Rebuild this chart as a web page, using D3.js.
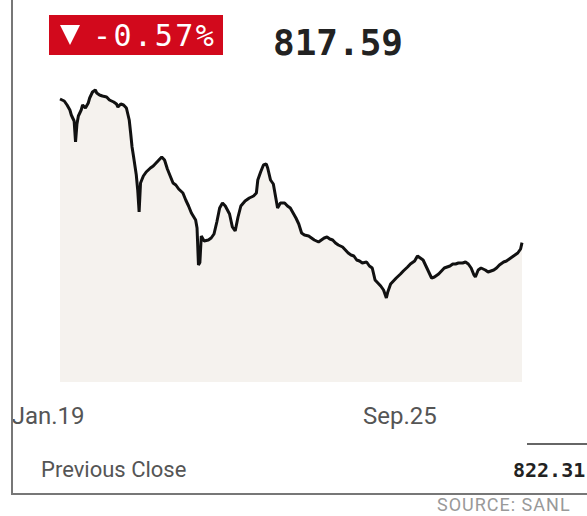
<!DOCTYPE html>
<html>
<head>
<meta charset="utf-8">
<script src="https://cdn.jsdelivr.net/npm/d3@7"></script>
<style>
  body { margin: 0; background: #fff; overflow: hidden; }
  svg { display: block; }
</style>
</head>
<body>
<script>
const startDate = new Date(2023, 0, 26);
const endDate = new Date(2023, 11, 19);

// days after startDate
const dayOffsets = [0, 3, 5, 7, 8, 10, 11, 12, 13, 15, 16, 18, 20, 21, 23, 25, 26, 28, 30, 33,
  35, 38, 40, 41, 43, 45, 47, 49, 50, 51, 52, 54, 55, 56, 57, 59, 61, 64, 66, 68,
  70, 72, 74, 76, 78, 80, 82, 84, 87, 89, 91, 93, 96, 97, 98, 99, 100, 102, 105, 107,
  109, 111, 113, 115, 117, 120, 122, 124, 126, 128, 131, 134, 137, 139, 140, 142, 144, 146, 147, 149,
  151, 153, 154, 156, 159, 161, 163, 165, 167, 169, 171, 173, 176, 178, 180, 183, 185, 187, 189, 191,
  193, 195, 197, 200, 202, 204, 206, 208, 210, 212, 214, 217, 219, 221, 223, 225, 227, 229, 231, 232,
  234, 236, 238, 241, 243, 246, 248, 251, 253, 255, 257, 259, 261, 263, 265, 268, 270, 272, 274, 276,
  278, 280, 282, 285, 287, 289, 291, 293, 294, 296, 298, 301, 303, 305, 307, 309, 311, 314, 316, 318,
  320, 322, 324, 325, 326, 327];

const closes = [918.1, 916.7, 913.9, 910.4, 906.9, 902.7, 888.0, 900.6, 906.2, 910.4, 913.9, 911.8, 915.3, 918.8, 923.0, 924.4, 922.3, 920.9, 920.2, 919.5,
  917.4, 916.0, 914.6, 912.5, 914.6, 913.9, 911.8, 903.4, 894.3, 884.5, 878.2, 864.9, 854.4, 839.0, 859.3, 864.2, 867.0, 869.8, 871.2, 873.3,
  875.4, 877.5, 875.4, 869.1, 864.2, 859.3, 857.9, 855.1, 852.3, 847.4, 843.2, 838.3, 833.4, 827.8, 801.9, 803.6, 822.2, 818.7, 819.4, 820.8,
  823.6, 832.0, 841.8, 845.3, 843.2, 837.6, 828.5, 825.7, 835.5, 843.2, 846.7, 848.8, 850.2, 852.3, 861.4, 867.0, 871.9, 872.6, 869.8, 861.4,
  858.6, 847.4, 841.8, 845.3, 845.3, 843.2, 841.8, 838.3, 834.8, 830.6, 824.3, 822.9, 822.2, 820.8, 819.4, 818.0, 819.4, 820.8, 821.5, 820.1,
  819.4, 817.3, 815.9, 814.5, 812.4, 810.3, 808.9, 808.2, 805.4, 804.7, 803.3, 804.0, 801.2, 799.8, 791.4, 789.3, 787.2, 784.4, 778.8, 783.0,
  788.6, 790.7, 792.8, 795.6, 797.7, 800.5, 802.6, 804.7, 808.2, 806.8, 805.4, 801.2, 797.0, 792.8, 793.5, 795.6, 797.7, 799.8, 800.5, 801.2,
  802.6, 802.6, 803.3, 803.3, 804.0, 802.6, 799.8, 794.9, 793.5, 798.4, 799.8, 798.4, 797.0, 797.7, 798.4, 799.8, 801.9, 804.0, 804.7, 806.1,
  807.5, 808.9, 810.3, 811.7, 813.1, 817.59];

const tickDates = [new Date(2023, 0, 19), new Date(2023, 8, 25)];
const tickLabels = ["Jan.19", "Sep.25"];

const changeText = "-0.57%";
const lastText = "817.59";
const prevCloseLabel = "Previous Close";
const prevCloseText = "822.31";
const sourceText = "SOURCE: SANL";

const data = dayOffsets.map((d, i) => ({ date: d3.timeDay.offset(startDate, d), value: closes[i] }));

const W = 587, H = 516;
const svg = d3.select("body").append("svg")
  .attr("width", W)
  .attr("height", H);

const x = d3.scaleTime().domain([startDate, endDate]).range([60, 522]);
const y = d3.scaleLinear().domain([720, 930]).range([382, 82]);

// area under line
const area = d3.area()
  .x(d => x(d.date))
  .y0(y(720))
  .y1(d => y(d.value));

svg.append("path")
  .datum(data)
  .attr("d", area)
  .attr("fill", "#f5f2ee");

const line = d3.line()
  .x(d => x(d.date))
  .y(d => y(d.value));

svg.append("path")
  .datum(data)
  .attr("d", line)
  .attr("fill", "none")
  .attr("stroke", "#111")
  .attr("stroke-width", 3)
  .attr("stroke-linejoin", "bevel");

// x labels
svg.append("g")
  .selectAll("text")
  .data(tickDates)
  .join("text")
  .attr("x", d => x(d) - 2)
  .attr("y", 424)
  .attr("text-anchor", "middle")
  .style("font-family", "Roboto, sans-serif")
  .style("font-size", "24px")
  .style("fill", "#555")
  .text((d, i) => tickLabels[i]);

// frame
svg.append("line")
  .attr("x1", 12).attr("x2", 12)
  .attr("y1", 0).attr("y2", 494)
  .attr("stroke", "#777").attr("stroke-width", 2);
svg.append("line")
  .attr("x1", 11).attr("x2", W)
  .attr("y1", 494).attr("y2", 494)
  .attr("stroke", "#777").attr("stroke-width", 2);

// change badge
svg.append("rect")
  .attr("x", 49).attr("y", 15)
  .attr("width", 174).attr("height", 40)
  .attr("fill", "#d2091c");
svg.append("path")
  .attr("d", "M60,25 L80,25 L70,45 Z")
  .attr("fill", "#fff");
svg.append("text")
  .attr("x", 93).attr("y", 46)
  .style("font-family", "'DejaVu Sans Mono', monospace")
  .style("font-size", "30px")
  .style("letter-spacing", "2.5px")
  .style("fill", "#fff")
  .text(changeText);

svg.append("text")
  .attr("x", 273).attr("y", 55)
  .style("font-family", "'DejaVu Sans Mono', monospace")
  .style("font-size", "36px")
  .style("font-weight", "bold")
  .style("fill", "#222")
  .text(lastText);

// previous close
svg.append("text")
  .attr("x", 41).attr("y", 477)
  .style("font-family", "Roboto, sans-serif")
  .style("font-size", "22px")
  .style("fill", "#555")
  .text(prevCloseLabel);

svg.append("line")
  .attr("x1", 527).attr("x2", W)
  .attr("y1", 444).attr("y2", 444)
  .attr("stroke", "#333").attr("stroke-width", 1.5);

svg.append("text")
  .attr("x", 513).attr("y", 477)
  .style("font-family", "'DejaVu Sans Mono', monospace")
  .style("font-size", "20px")
  .style("font-weight", "bold")
  .style("fill", "#222")
  .text(prevCloseText);

svg.append("text")
  .attr("x", 437).attr("y", 511)
  .style("font-family", "Roboto, sans-serif")
  .style("font-size", "18px")
  .style("letter-spacing", "1px")
  .style("fill", "#999")
  .text(sourceText);
</script>
</body>
</html>
